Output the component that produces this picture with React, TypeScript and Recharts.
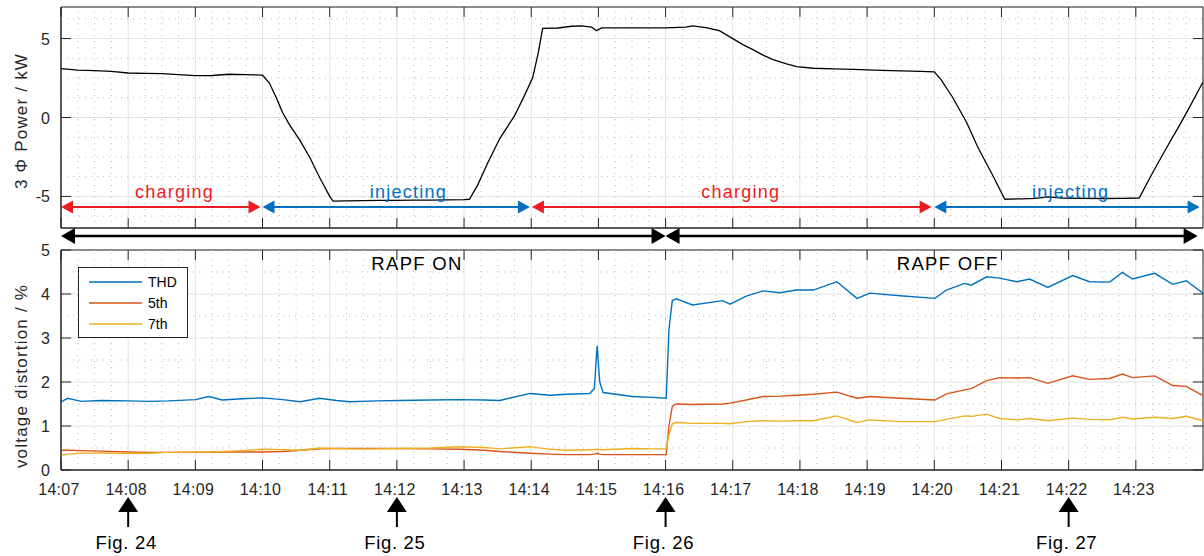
import React from 'react'
import {
  LineChart,
  Line,
  XAxis,
  YAxis,
  CartesianGrid,
  ReferenceLine,
  ReferenceDot,
  ReferenceArea,
  Legend,
} from 'recharts'

// time axis in minutes after 14:00
const powerTime = [
  7.0, 7.25, 7.5, 7.75, 8.0, 8.25, 8.5, 8.75, 9.0, 9.25, 9.5, 9.75, 10.0, 10.1, 10.2, 10.3, 10.4,
  10.55, 10.7, 10.85, 11.0, 11.05, 11.25, 11.5, 11.75, 12.0, 12.25, 12.5, 12.75, 13.0, 13.08, 13.2,
  13.35, 13.53, 13.75, 13.9, 14.02, 14.1, 14.17, 14.4, 14.6, 14.75, 14.9, 14.97, 15.05, 15.5, 16.0,
  16.3, 16.4, 16.6, 16.8, 17.0, 17.15, 17.3, 17.45, 17.6, 17.8, 17.95, 18.2, 18.5, 18.8, 19.1, 19.5,
  19.8, 20.0, 20.1, 20.27, 20.48, 20.65, 20.85, 21.05, 21.3, 21.5, 21.7, 21.9, 22.2, 22.5, 22.8,
  23.05, 23.25, 23.46, 23.65, 23.8, 24.0,
]
const powerKW = [
  3.1, 3.0, 2.97, 2.92, 2.82, 2.8, 2.78, 2.72, 2.65, 2.66, 2.74, 2.72, 2.68, 2.2, 1.3, 0.3, -0.45,
  -1.4, -2.5, -3.8, -5.0, -5.3, -5.28, -5.26, -5.25, -5.25, -5.24, -5.24, -5.22, -5.2, -5.18, -4.3,
  -2.9, -1.35, 0.1, 1.4, 2.5, 4.0, 5.65, 5.67, 5.78, 5.8, 5.72, 5.5, 5.68, 5.68, 5.68,
  5.72, 5.8, 5.7, 5.5, 5.0, 4.62, 4.3, 3.95, 3.67, 3.4, 3.22, 3.12, 3.08, 3.05, 3.0, 2.95,
  2.92, 2.89, 2.4, 1.3, -0.3, -1.9, -3.5, -5.18, -5.15, -5.12, -5.03, -5.1, -5.12, -5.13, -5.12,
  -5.1, -3.5, -1.9, -0.5, 0.66, 2.25,
]

const distTime = [
  7.0, 7.1, 7.3, 7.6, 8.0, 8.3, 8.6, 9.0, 9.2, 9.4, 9.7, 10.0, 10.3, 10.56, 10.85, 11.1, 11.3, 11.7,
  12.04, 12.5, 12.94, 13.3, 13.53, 13.98, 14.28, 14.52, 14.87, 14.94, 14.98, 15.02, 15.07, 15.51,
  15.8, 16.01, 16.05, 16.1, 16.16, 16.4, 16.85, 16.96, 17.2, 17.45, 17.7, 17.95, 18.2, 18.55, 18.85,
  19.04, 19.49, 20.01, 20.18, 20.45, 20.55, 20.78, 20.97, 21.23, 21.42, 21.69, 22.06, 22.31, 22.61,
  22.8, 22.95, 23.28, 23.55, 23.75, 24.0,
]
const thd = [
  1.55, 1.63, 1.56, 1.58, 1.57, 1.56, 1.57, 1.6, 1.67, 1.59, 1.62, 1.64, 1.6, 1.55, 1.63, 1.58, 1.55,
  1.57, 1.58, 1.59, 1.6, 1.59, 1.58, 1.74, 1.7, 1.72, 1.74, 1.85, 2.82, 2.0, 1.76, 1.67,
  1.65, 1.63, 3.2, 3.85, 3.89, 3.75, 3.85, 3.77, 3.95, 4.07, 4.03, 4.09, 4.09, 4.28, 3.9,
  4.02, 3.96, 3.9, 4.09, 4.24, 4.2, 4.39, 4.36, 4.28, 4.34, 4.15, 4.42, 4.28, 4.27,
  4.49, 4.34, 4.47, 4.22, 4.3, 4.02,
]
const fifth = [
  0.45, 0.45, 0.44, 0.43, 0.41, 0.4, 0.4, 0.4, 0.4, 0.41, 0.41, 0.41, 0.42, 0.45, 0.48, 0.49, 0.49,
  0.49, 0.49, 0.48, 0.47, 0.45, 0.42, 0.38, 0.36, 0.35, 0.35, 0.36, 0.38, 0.36, 0.35, 0.35,
  0.35, 0.35, 1.0, 1.45, 1.5, 1.49, 1.5, 1.52, 1.59, 1.67, 1.68, 1.7, 1.72, 1.77, 1.63,
  1.67, 1.63, 1.59, 1.73, 1.82, 1.85, 2.03, 2.1, 2.09, 2.1, 1.97, 2.14, 2.06, 2.08,
  2.18, 2.1, 2.14, 1.92, 1.9, 1.69,
]
const seventh = [
  0.33, 0.36, 0.38, 0.39, 0.38, 0.38, 0.4, 0.41, 0.41, 0.42, 0.44, 0.47, 0.46, 0.45, 0.5, 0.49, 0.48,
  0.48, 0.49, 0.5, 0.53, 0.51, 0.48, 0.53, 0.47, 0.45, 0.46, 0.46, 0.47, 0.46, 0.46, 0.49,
  0.48, 0.48, 0.8, 1.05, 1.08, 1.06, 1.06, 1.05, 1.1, 1.12, 1.11, 1.12, 1.12, 1.23, 1.08,
  1.14, 1.1, 1.1, 1.15, 1.23, 1.22, 1.27, 1.17, 1.14, 1.17, 1.12, 1.18, 1.15, 1.14,
  1.2, 1.16, 1.2, 1.17, 1.22, 1.12,
]

const minuteTicks = [7, 8, 9, 10, 11, 12, 13, 14, 15, 16, 17, 18, 19, 20, 21, 22, 23]
const powerTicks = [-5, 0, 5]
const distTicks = [0, 1, 2, 3, 4, 5]
const powerMinor = [-6.25, -3.75, -2.5, -1.25, 1.25, 2.5, 3.75, 6.25]
const distMinor = [0.5, 1.5, 2.5, 3.5, 4.5]
const minuteMinor = minuteTicks.flatMap((m) => [m + 0.25, m + 0.5, m + 0.75])

const RED = '#ED1C24'
const BLUE = '#0070C0'
const AXIS = '#262626'
const FONT = '"Liberation Sans", Arial, Helvetica, sans-serif'

const phases = [
  { from: 7.0, to: 9.97, label: 'charging', at: 8.69, color: RED },
  { from: 10.0, to: 13.98, label: 'injecting', at: 12.17, color: BLUE },
  { from: 14.01, to: 19.96, label: 'charging', at: 17.12, color: RED },
  { from: 20.0, to: 23.95, label: 'injecting', at: 22.03, color: BLUE },
]
const rapf = [
  { from: 7.0, to: 16.0, label: 'RAPF ON', at: 12.3 },
  { from: 16.0, to: 23.92, label: 'RAPF OFF', at: 20.2 },
]
const figMarks = [
  { at: 8, label: 'Fig. 24' },
  { at: 12, label: 'Fig. 25' },
  { at: 16, label: 'Fig. 26' },
  { at: 22, label: 'Fig. 27' },
]

const series = [
  { key: 'thd', name: 'THD', color: '#0072BD' },
  { key: 'h5', name: '5th', color: '#D95319' },
  { key: 'h7', name: '7th', color: '#EDB120' },
]

const powerData = powerTime.map((t, i) => ({ t, p: powerKW[i] }))
const distData = distTime.map((t, i) => ({ t, thd: thd[i], h5: fifth[i], h7: seventh[i] }))

const PLOT_W = 1142

const fmtTime = (v: number) => `14:${String(v).padStart(2, '0')}`

// inward tick marks on both edges, MATLAB box style
const XTick = ({ x, y, payload, showLabel, plotH }: any) => (
  <g>
    <line x1={x} x2={x} y1={y} y2={y - 10} stroke={AXIS} />
    <line x1={x} x2={x} y1={y - plotH} y2={y - plotH + 10} stroke={AXIS} />
    {showLabel && (
      <text x={x - 2} y={y + 25} textAnchor="middle" fontSize={16} fill={AXIS} fontFamily={FONT} letterSpacing={0.3}>
        {fmtTime(payload.value)}
      </text>
    )}
  </g>
)
const YTick = ({ x, y, payload }: any) => (
  <g>
    <line x1={x} x2={x + 10} y1={y} y2={y} stroke={AXIS} />
    <line x1={x + PLOT_W} x2={x + PLOT_W - 10} y1={y} y2={y} stroke={AXIS} />
    <text x={x - 11} y={y + 6} textAnchor="end" fontSize={16} fill={AXIS} fontFamily={FONT}>
      {payload.value}
    </text>
  </g>
)

const arrowShape = (color: string, w: number, head: number, half: number) => (p: any) => {
  const l = Math.min(p.x1, p.x2)
  const r = Math.max(p.x1, p.x2)
  const y = p.y1
  return (
    <g>
      <line x1={l + head - 1} x2={r - head + 1} y1={y} y2={y} stroke={color} strokeWidth={w} />
      <polygon points={`${l},${y} ${l + head},${y - half} ${l + head},${y + half}`} fill={color} />
      <polygon points={`${r},${y} ${r - head},${y - half} ${r - head},${y + half}`} fill={color} />
    </g>
  )
}

const textShape = (label: string, color: string, size: number, spacing: number) => (p: any) => (
  <text x={p.cx} y={p.cy} textAnchor="middle" fontSize={size} fill={color} fontFamily={FONT} letterSpacing={spacing}>
    {label}
  </text>
)

const figShape = (label: string) => (p: any) => {
  const x = p.x1
  const base = Math.max(p.y1, p.y2)
  return (
    <g>
      <line x1={x} x2={x} y1={base + 40} y2={base + 57} stroke="#000" strokeWidth={2} />
      <polygon points={`${x},${base + 27} ${x - 10},${base + 42} ${x + 10},${base + 42}`} fill="#000" />
      <text x={x - 2} y={base + 79} textAnchor="middle" fontSize={18.5} fill="#000" fontFamily={FONT} letterSpacing={0.7}>
        {label}
      </text>
    </g>
  )
}

// cy is in the chart's own coordinates
const yLabel = (label: string, cy: number) => () => (
  <text
    x={27}
    y={cy}
    transform={`rotate(-90 27 ${cy})`}
    textAnchor="middle"
    fontSize={17}
    fill={AXIS}
    fontFamily={FONT}
    letterSpacing={1.2}
  >
    {label}
  </text>
)

const LegendBox = () => (
  <svg width={110} height={71} style={{ display: 'block' }}>
    <rect x={0.5} y={0.5} width={109} height={70} fill="#fff" stroke={AXIS} />
    {series.map((s, i) => (
      <g key={s.key}>
        <line x1={11} x2={64} y1={15 + i * 21} y2={15 + i * 21} stroke={s.color} strokeWidth={1.5} />
        <text x={70} y={20 + i * 21} fontSize={14} fill="#000" fontFamily={FONT}>
          {s.name}
        </text>
      </g>
    ))}
  </svg>
)

const gridProps = { stroke: '#e2e2e2', strokeWidth: 1 }
const minorProps = { stroke: '#bdbdbd', strokeDasharray: '1 5', strokeWidth: 1 }

export default function App() {
  return (
    <div style={{ position: 'absolute', left: 0, top: 0, width: 1204, height: 556, background: '#fff', fontFamily: FONT }}>
      <div style={{ position: 'absolute', left: 0, top: 0 }}>
        <LineChart width={1204} height={250} data={powerData} margin={{ top: 7, right: 1, bottom: 0, left: 0 }}>
          <CartesianGrid {...gridProps} />
          {minuteMinor.map((v) => (
            <ReferenceLine key={`mx${v}`} x={v} {...minorProps} />
          ))}
          {powerMinor.map((v) => (
            <ReferenceLine key={`my${v}`} y={v} {...minorProps} />
          ))}
          <ReferenceArea x1={7} x2={24} y1={-7} y2={7} fill="none" stroke={AXIS} strokeWidth={1} />
          <XAxis
            dataKey="t"
            type="number"
            domain={[7, 24]}
            ticks={minuteTicks}
            interval={0}
            allowDataOverflow
            height={22}
            tickSize={0}
            tickMargin={0}
            tickLine={false}
            axisLine={{ stroke: AXIS }}
            tick={<XTick showLabel={false} plotH={221} />}
          />
          <YAxis
            type="number"
            domain={[-7, 7]}
            ticks={powerTicks}
            interval={0}
            allowDataOverflow
            width={61}
            tickSize={0}
            tickMargin={0}
            tickLine={false}
            axisLine={{ stroke: AXIS }}
            tick={<YTick />}
            label={{ content: yLabel('3 \u03A6 Power / kW', 121) }}
          />
          <Line type="linear" dataKey="p" stroke="#000" strokeWidth={1.3} dot={false} isAnimationActive={false} />
          {phases.map((ph, i) => (
            <ReferenceLine
              key={`ph${i}`}
              segment={[
                { x: ph.from, y: -5.67 },
                { x: ph.to, y: -5.67 },
              ]}
              ifOverflow="visible"
              shape={arrowShape(ph.color, 2, 12, 6.5)}
            />
          ))}
          {phases.map((ph, i) => (
            <ReferenceDot
              key={`pt${i}`}
              x={ph.at}
              y={-5.12}
              r={0}
              ifOverflow="visible"
              shape={textShape(ph.label, ph.color, 18, 1.25)}
            />
          ))}
          {rapf.map((r, i) => (
            <ReferenceLine
              key={`ra${i}`}
              segment={[
                { x: r.from, y: -7.5 },
                { x: r.to, y: -7.5 },
              ]}
              ifOverflow="visible"
              shape={arrowShape('#000', 2.5, 14, 8)}
            />
          ))}
        </LineChart>
      </div>
      <div style={{ position: 'absolute', left: 0, top: 240 }}>
        <LineChart width={1204} height={316} data={distData} margin={{ top: 10, right: 1, bottom: 56, left: 0 }}>
          <CartesianGrid {...gridProps} />
          {minuteMinor.map((v) => (
            <ReferenceLine key={`mx${v}`} x={v} {...minorProps} />
          ))}
          {distMinor.map((v) => (
            <ReferenceLine key={`my${v}`} y={v} {...minorProps} />
          ))}
          <ReferenceArea x1={7} x2={24} y1={0} y2={5} fill="none" stroke={AXIS} strokeWidth={1} />
          <XAxis
            dataKey="t"
            type="number"
            domain={[7, 24]}
            ticks={minuteTicks}
            interval={0}
            allowDataOverflow
            height={30}
            tickSize={0}
            tickMargin={0}
            tickLine={false}
            axisLine={{ stroke: AXIS }}
            tick={<XTick showLabel plotH={220} />}
          />
          <YAxis
            type="number"
            domain={[0, 5]}
            ticks={distTicks}
            interval={0}
            allowDataOverflow
            width={61}
            tickSize={0}
            tickMargin={0}
            tickLine={false}
            axisLine={{ stroke: AXIS }}
            tick={<YTick />}
            label={{ content: yLabel('voltage distortion / %', 136) }}
          />
          {series.map((s) => (
            <Line
              key={s.key}
              type="linear"
              dataKey={s.key}
              name={s.name}
              stroke={s.color}
              strokeWidth={1.4}
              dot={false}
              isAnimationActive={false}
            />
          ))}
          {rapf.map((r, i) => (
            <ReferenceDot
              key={`rt${i}`}
              x={r.at}
              y={4.55}
              r={0}
              ifOverflow="visible"
              shape={textShape(r.label, '#000', 18.5, 1.3)}
            />
          ))}
          {figMarks.map((f) => (
            <ReferenceLine key={f.label} x={f.at} ifOverflow="visible" shape={figShape(f.label)} />
          ))}
          <Legend
            layout="vertical"
            align="center"
            verticalAlign="middle"
            content={() => <LegendBox />}
            wrapperStyle={{ position: 'absolute', left: 78, top: 27, width: 110, height: 71 }}
          />
        </LineChart>
      </div>
    </div>
  )
}
